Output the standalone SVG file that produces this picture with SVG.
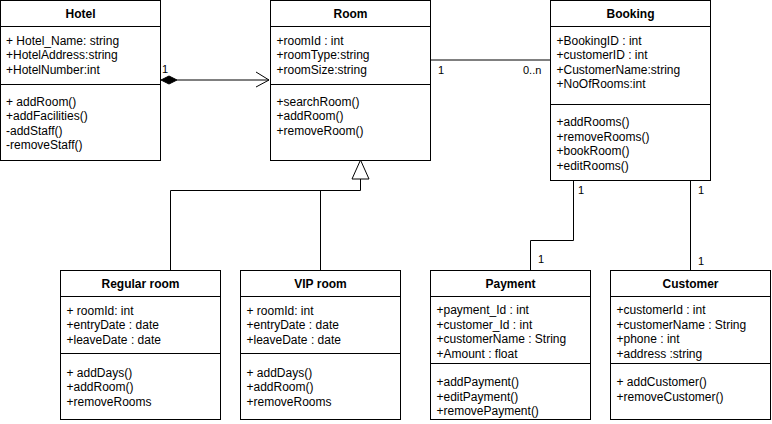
<svg xmlns="http://www.w3.org/2000/svg" width="772" height="424" viewBox="0 0 772 424">
<style>
.box{fill:#fff;stroke:#000;stroke-width:1}
.ln{stroke:#000;stroke-width:1;fill:none}
text{font-family:"Liberation Sans",Arial,sans-serif;font-size:12px;fill:#000}
.h{font-weight:bold;text-anchor:middle}
.lbl{font-size:11px}
</style>
<rect width="772" height="424" fill="#fff"/>
<g id="connectors">
<line class="ln" x1="177" y1="80" x2="269" y2="80"/>
<polygon points="161,80 169,76 177,80 169,84" fill="#000" stroke="#000"/>
<polyline class="ln" points="256,72 269,80 256,87"/>
<text class="lbl" x="162" y="73">1</text>
<line class="ln" x1="430" y1="60" x2="550" y2="60"/>
<text class="lbl" x="438" y="74">1</text>
<text class="lbl" x="523" y="74">0..n</text>
<polygon points="360.5,160 352,179 369,179" fill="#fff" stroke="#000"/>
<polyline class="ln" points="360.5,179 360.5,190.5 170.5,190.5 170.5,270"/>
<line class="ln" x1="320.5" y1="190.5" x2="320.5" y2="270"/>
<polyline class="ln" points="573.5,180 573.5,240.5 530.5,240.5 530.5,270"/>
<text class="lbl" x="578" y="194">1</text>
<text class="lbl" x="538" y="263">1</text>
<line class="ln" x1="690.5" y1="180" x2="690.5" y2="270"/>
<text class="lbl" x="698" y="194">1</text>
<text class="lbl" x="698" y="265">1</text>
</g>
<g id="Hotel">
<rect class="box" x="0.5" y="0.5" width="160" height="160"/>
<line class="ln" x1="0.5" y1="26.5" x2="160.5" y2="26.5"/>
<line class="ln" x1="0.5" y1="84.5" x2="160.5" y2="84.5"/>
<text class="h" x="80.5" y="18">Hotel</text>
<text x="6" y="44.5">+ Hotel_Name: string</text>
<text x="6" y="59">+HotelAddress:string</text>
<text x="6" y="73.5">+HotelNumber:int</text>
<text x="6" y="105.5">+ addRoom()</text>
<text x="6" y="120">+addFacilities()</text>
<text x="6" y="134.5">-addStaff()</text>
<text x="6" y="149">-removeStaff()</text>
</g>
<g id="Room">
<rect class="box" x="270.5" y="0.5" width="160" height="160"/>
<line class="ln" x1="270.5" y1="26.5" x2="430.5" y2="26.5"/>
<line class="ln" x1="270.5" y1="84.5" x2="430.5" y2="84.5"/>
<text class="h" x="350.5" y="18">Room</text>
<text x="276.5" y="44.5">+roomId : int</text>
<text x="276.5" y="59">+roomType:string</text>
<text x="276.5" y="73.5">+roomSize:string</text>
<text x="276.5" y="105.5">+searchRoom()</text>
<text x="276.5" y="120">+addRoom()</text>
<text x="276.5" y="134.5">+removeRoom()</text>
</g>
<g id="Booking">
<rect class="box" x="550.5" y="0.5" width="160" height="180"/>
<line class="ln" x1="550.5" y1="26.5" x2="710.5" y2="26.5"/>
<line class="ln" x1="550.5" y1="104.5" x2="710.5" y2="104.5"/>
<text class="h" x="630.5" y="18">Booking</text>
<text x="556.5" y="44.5">+BookingID : int</text>
<text x="556.5" y="59">+customerID : int</text>
<text x="556.5" y="73.5">+CustomerName:string</text>
<text x="556.5" y="88">+NoOfRooms:int</text>
<text x="556.5" y="126">+addRooms()</text>
<text x="556.5" y="140.5">+removeRooms()</text>
<text x="556.5" y="155">+bookRoom()</text>
<text x="556.5" y="169.5">+editRooms()</text>
</g>
<g id="RegularRoom">
<rect class="box" x="60.5" y="270.5" width="160" height="149"/>
<line class="ln" x1="60.5" y1="296.5" x2="220.5" y2="296.5"/>
<line class="ln" x1="60.5" y1="353.5" x2="220.5" y2="353.5"/>
<text class="h" x="140.5" y="288">Regular room</text>
<text x="66.5" y="314.5">+ roomId: int</text>
<text x="66.5" y="329">+entryDate : date</text>
<text x="66.5" y="343.5">+leaveDate : date</text>
<text x="66.5" y="376.5">+ addDays()</text>
<text x="66.5" y="391">+addRoom()</text>
<text x="66.5" y="405.5">+removeRooms</text>
</g>
<g id="VIPRoom">
<rect class="box" x="240.5" y="270.5" width="160" height="149"/>
<line class="ln" x1="240.5" y1="296.5" x2="400.5" y2="296.5"/>
<line class="ln" x1="240.5" y1="353.5" x2="400.5" y2="353.5"/>
<text class="h" x="320.5" y="288">VIP room</text>
<text x="246.5" y="314.5">+ roomId: int</text>
<text x="246.5" y="329">+entryDate : date</text>
<text x="246.5" y="343.5">+leaveDate : date</text>
<text x="246.5" y="376.5">+ addDays()</text>
<text x="246.5" y="391">+addRoom()</text>
<text x="246.5" y="405.5">+removeRooms</text>
</g>
<g id="Payment">
<rect class="box" x="430.5" y="270.5" width="160" height="149"/>
<line class="ln" x1="430.5" y1="296.5" x2="590.5" y2="296.5"/>
<line class="ln" x1="430.5" y1="363.5" x2="590.5" y2="363.5"/>
<text class="h" x="510.5" y="288">Payment</text>
<text x="436.5" y="314">+payment_Id : int</text>
<text x="436.5" y="328.5">+customer_Id : int</text>
<text x="436.5" y="343">+customerName : String</text>
<text x="436.5" y="357.5">+Amount : float</text>
<text x="436.5" y="386">+addPayment()</text>
<text x="436.5" y="400.5">+editPayment()</text>
<text x="436.5" y="415">+removePayment()</text>
</g>
<g id="Customer">
<rect class="box" x="610.5" y="270.5" width="160" height="149"/>
<line class="ln" x1="610.5" y1="296.5" x2="770.5" y2="296.5"/>
<line class="ln" x1="610.5" y1="363.5" x2="770.5" y2="363.5"/>
<text class="h" x="690.5" y="288">Customer</text>
<text x="616.5" y="314">+customerId : int</text>
<text x="616.5" y="328.5">+customerName : String</text>
<text x="616.5" y="343">+phone : int</text>
<text x="616.5" y="357.5">+address :string</text>
<text x="616.5" y="386">+ addCustomer()</text>
<text x="616.5" y="400.5">+removeCustomer()</text>
</g>
</svg>
